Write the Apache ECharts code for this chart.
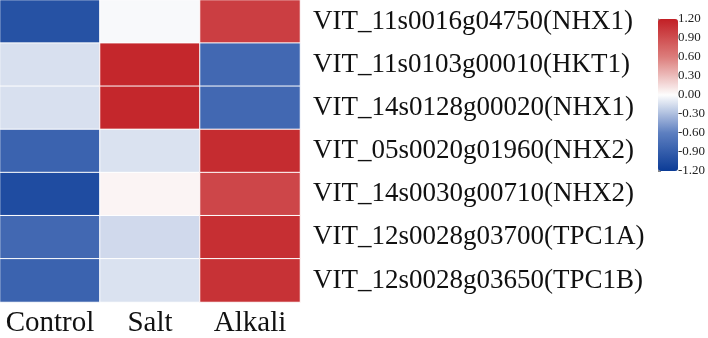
<!DOCTYPE html>
<html>
<head>
<meta charset="utf-8">
<script src="https://cdn.jsdelivr.net/npm/echarts@6/dist/echarts.min.js"></script>
<style>
  html, body { margin: 0; padding: 0; background: #fff; }
  #chart { width: 708px; height: 338px; }
</style>
</head>
<body>
<div id="chart"></div>
<script>
const treatments = ["Control", "Salt", "Alkali"];
const genes = [
  "VIT_11s0016g04750(NHX1)",
  "VIT_11s0103g00010(HKT1)",
  "VIT_14s0128g00020(NHX1)",
  "VIT_05s0020g01960(NHX2)",
  "VIT_14s0030g00710(NHX2)",
  "VIT_12s0028g03700(TPC1A)",
  "VIT_12s0028g03650(TPC1B)",
];
// one row per gene: Control, Salt, Alkali
const controlValues = [-1.0, -0.14, -0.14, -0.85, -1.05, -0.8, -0.85];
const saltValues = [-0.02, 1.15, 1.15, -0.13, 0.04, -0.17, -0.13];
const alkaliValues = [1.0, -0.8, -0.8, 1.12, 0.95, 1.1, 1.08];
const scaleTicks = [-1.2, -0.9, -0.6, -0.3, 0, 0.3, 0.6, 0.9, 1.2];

const cells = [];
[controlValues, saltValues, alkaliValues].forEach((col, x) => {
  col.forEach((v, y) => cells.push([x, y, v]));
});

const serif = "Liberation Serif";
const chart = echarts.init(document.getElementById("chart"));
chart.setOption({
  animation: false,
  grid: [
    { left: 0, top: 0, width: 300, height: 306 },
    { left: 658, top: 19, width: 20, height: 152 },
  ],
  xAxis: [
    {
      type: "category",
      data: treatments,
      gridIndex: 0,
      axisLine: { show: false },
      axisTick: { show: false },
      axisLabel: { fontFamily: serif, fontSize: 29, color: "#111", margin: 7, interval: 0 },
    },
    { type: "value", gridIndex: 1, show: false, min: 0, max: 1 },
  ],
  yAxis: [
    {
      type: "category",
      data: genes,
      gridIndex: 0,
      inverse: true,
      position: "right",
      axisLine: { show: false },
      axisTick: { show: false },
      axisLabel: { fontFamily: serif, fontSize: 27, color: "#111", margin: 13 },
    },
    {
      type: "value",
      gridIndex: 1,
      position: "right",
      min: scaleTicks[0],
      max: scaleTicks[scaleTicks.length - 1],
      interval: 0.3,
      splitLine: { show: false },
      axisLine: { show: true, lineStyle: { color: "#888", width: 1 } },
      axisTick: { show: true, length: 3, lineStyle: { color: "#888" } },
      axisLabel: {
        fontFamily: serif,
        fontSize: 13,
        color: "#222",
        margin: 2,
        formatter: (v) => v.toFixed(2),
      },
    },
  ],
  visualMap: {
    type: "continuous",
    min: -1.2,
    max: 1.2,
    calculable: false,
    seriesIndex: 0,
    left: 658,
    top: 19,
    padding: 0,
    itemWidth: 20,
    itemHeight: 152,
    text: ["", ""],
    showLabel: false,
    inRange: {
      color: ["#0b3b96", "#5d7fc0", "#fdfdfd", "#dc7d7b", "#c21f25"],
    },
  },
  series: [
    {
      type: "heatmap",
      xAxisIndex: 0,
      yAxisIndex: 0,
      data: cells,
      itemStyle: { borderColor: "#fff", borderWidth: 1 },
    },
    {
      type: "scatter",
      xAxisIndex: 1,
      yAxisIndex: 1,
      data: [],
      silent: true,
    },
  ],
});
</script>
</body>
</html>
